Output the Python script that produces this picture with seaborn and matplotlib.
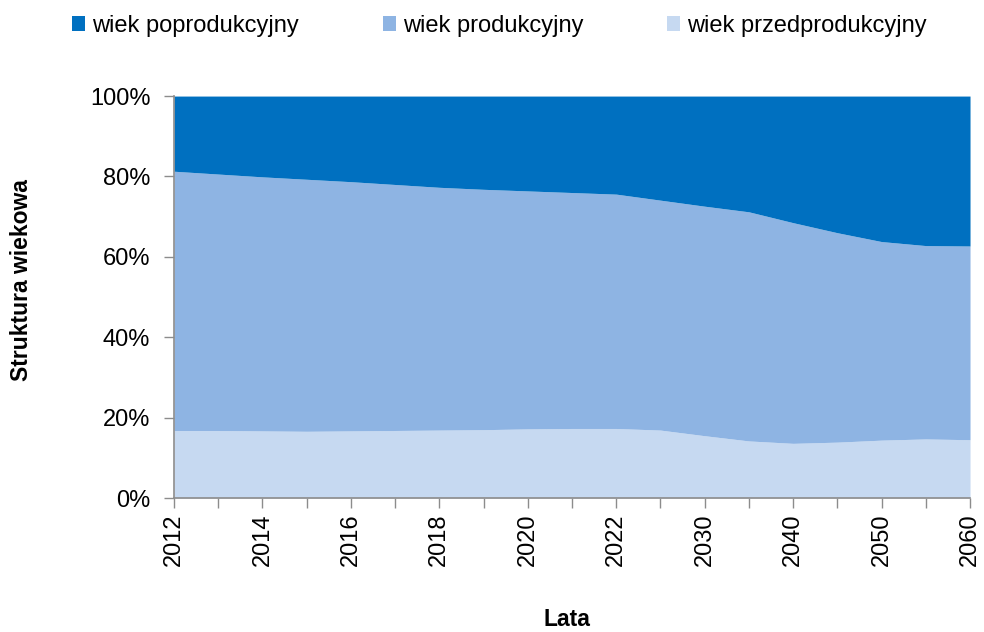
import numpy as np
import pandas as pd
import matplotlib
matplotlib.use("Agg")
import matplotlib.pyplot as plt
import seaborn as sns

# data (percent of population)
years = ["2012", "2013", "2014", "2015", "2016", "2017", "2018", "2019", "2020",
         "2021", "2022", "2025", "2030", "2035", "2040", "2045", "2050", "2055", "2060"]
przed = [16.8, 16.8, 16.7, 16.6, 16.7, 16.8, 16.9, 17.0, 17.2, 17.3, 17.3,
         16.9, 15.5, 14.2, 13.6, 13.9, 14.4, 14.7, 14.5]
cumul = [81.3, 80.6, 79.9, 79.3, 78.7, 78.0, 77.3, 76.8, 76.4, 76.0, 75.6,
         74.1, 72.6, 71.2, 68.5, 66.0, 63.8, 62.8, 62.7]
produk = [c - p for c, p in zip(cumul, przed)]
poprod = [100 - c for c in cumul]

series = ["wiek poprodukcyjny", "wiek produkcyjny", "wiek przedprodukcyjny"]
colors = ["#0070C0", "#8EB4E3", "#C6D9F1"]

df = pd.DataFrame({"rok": years, series[2]: przed, series[1]: produk, series[0]: poprod})

sns.set_style("white")
plt.rcParams["font.family"] = ["Liberation Sans", "DejaVu Sans"]
plt.rcParams["text.color"] = "black"
plt.rcParams["xtick.labelcolor"] = "black"
plt.rcParams["ytick.labelcolor"] = "black"

fig = plt.figure(figsize=(9.84, 6.32), dpi=100)
ax = fig.add_axes([0.1768, 0.212, 0.809, 0.636])

x = np.arange(len(years))
polys = ax.stackplot(x, df[series[2]], df[series[1]], df[series[0]],
                     colors=[colors[2], colors[1], colors[0]], linewidth=0)

ax.set_xlim(0, len(years) - 1)
ax.set_ylim(0, 100)
ax.set_yticks([0, 20, 40, 60, 80, 100])
ax.set_yticklabels([f"{v}%" for v in [0, 20, 40, 60, 80, 100]], fontsize=17)
ax.set_xticks(x)
ax.set_xticklabels([y if i % 2 == 0 else "" for i, y in enumerate(years)],
                   rotation=90, fontsize=17)
ax.tick_params(axis="y", direction="out", length=7, width=1, color="#8c8c8c",
               left=True, pad=10)
ax.tick_params(axis="x", direction="out", length=7, width=1, color="#8c8c8c",
               bottom=True, pad=4)

for s in ["top", "right"]:
    ax.spines[s].set_visible(False)
for s in ["left", "bottom"]:
    ax.spines[s].set_color("#8c8c8c")
    ax.spines[s].set_linewidth(1.2)

fig.text(22 / 984, 1 - 280 / 632, "Struktura wiekowa", rotation=90, fontsize=16.5,
         fontweight="bold", ha="center", va="center")
fig.text(567 / 984, 1 - 620 / 632, "Lata", fontsize=16.5, fontweight="bold",
         ha="center", va="center")

handles = [polys[2], polys[1], polys[0]]
fig.legend(handles, series, loc="upper left", bbox_to_anchor=(0.052, 1.01), ncol=3,
           frameon=False, fontsize=17, handlelength=0.55, handleheight=0.55,
           handletextpad=0.3, columnspacing=3.55)

fig.savefig("out.png", dpi=100)
